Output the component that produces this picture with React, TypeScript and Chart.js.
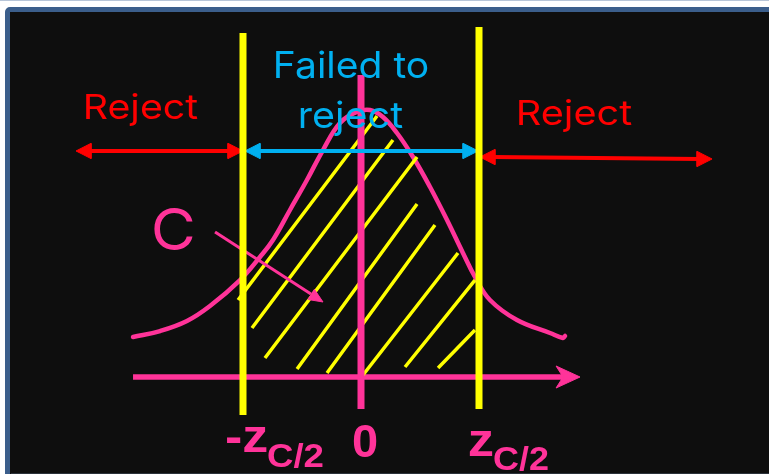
import React, { useEffect, useRef } from "react";
import { Chart, registerables } from "chart.js";

Chart.register(...registerables);

// ---- Diagram data (x in z-units, y in density units) ----
const curveZ = [-1.932, -1.703, -1.475, -1.280, -1.025, -0.856, -0.746, -0.602, -0.458, -0.322, -0.178, -0.034, 0.076, 0.186, 0.305, 0.441, 0.585, 0.729, 0.864, 0.966, 1.093, 1.322, 1.602, 1.712, 1.729];
const curveD = [0.0588, 0.0676, 0.0824, 0.1044, 0.1426, 0.1765, 0.2015, 0.2456, 0.2897, 0.3338, 0.3735, 0.3897, 0.3926, 0.3824, 0.3588, 0.3235, 0.2794, 0.2309, 0.1824, 0.1471, 0.1132, 0.0838, 0.0647, 0.0574, 0.0603];

const criticalZ = [-1.0, 1.0];
const criticalTopD = [0.5059, 0.5147];
const criticalBottomD = [-0.0559, -0.0471];

const zeroLineD = [-0.0471, 0.4441];

const axisStartZ = -1.932;
const axisTipZ = 1.856;
const axisNotchZ = 1.712;
const axisBarbZ = 1.653;
const axisBarbD = 0.0162;

const hatchStartZ = [-1.042, -0.924, -0.814, -0.542, -0.288, 0.017, 0.373, 0.653];
const hatchStartD = [0.1132, 0.0721, 0.0279, 0.0118, 0.0059, 0.0029, 0.0147, 0.0132];
const hatchEndZ = [0.136, 0.271, 0.475, 0.475, 0.627, 0.822, 0.966, 0.966];
const hatchEndD = [0.3838, 0.3485, 0.3235, 0.2544, 0.2235, 0.1824, 0.1426, 0.0691];

// double arrows: [leftTipZ, leftD, rightTipZ, rightD]
const rejectLeftArrow = [-2.415, 0.3324, -1.0, 0.3324];
const failedArrow = [-0.983, 0.3324, 0.992, 0.3324];
const rejectRightArrow = [1.008, 0.3235, 2.975, 0.3206];
const headLenZ = 0.127;
const headHalfD = 0.0112;

// "C" pointer arrow
const pointerLineZ = [-1.237, -0.424];
const pointerLineD = [0.2132, 0.1221];
const pointerHeadZ = [-0.322, -0.449, -0.395];
const pointerHeadD = [0.1103, 0.114, 0.129];

// text labels
const labelText = ["Reject", "Reject", "Failed to", "reject", "C", "-z", "C/2", "0", "z", "C/2"];
const labelZ = [-1.86, 1.814, -0.076, -0.081, -1.589, -0.97, -0.555, 0.034, 1.017, 1.356];
const labelD = [0.3794, 0.3706, 0.4397, 0.3662, 0.1868, -0.1103, -0.1324, -0.1176, -0.1162, -0.1368];

// ---- Styles / layout ----
const W = 769;
const H = 474;
const ZERO_PX = 361;
const PX_PER_Z = 118;
const BASE_PX = 377;
const PX_PER_D = 680;

const PINK = "#ff3399";
const YELLOW = "#ffff00";
const RED = "#ff0000";
const CYAN = "#00b0f0";

const labelStyle = [
  { color: RED, font: "400 34px Inter", ink: 113 },
  { color: RED, font: "400 34px Inter", ink: 114 },
  { color: CYAN, font: "400 37px Inter", ink: 152 },
  { color: CYAN, font: "400 37px Inter", ink: 103 },
  { color: PINK, font: "400 57px Inter", ink: 39 },
  { color: PINK, font: "700 46px 'Liberation Sans'", ink: 41 },
  { color: PINK, font: "700 34px 'Liberation Sans'", ink: 55 },
  { color: PINK, font: "700 47px 'Liberation Sans'", ink: 24 },
  { color: PINK, font: "700 46px 'Liberation Sans'", ink: 24 },
  { color: PINK, font: "700 34px 'Liberation Sans'", ink: 54 },
];

function seg(x1: number, y1: number, x2: number, y2: number, color: string, width: number) {
  return {
    data: [
      { x: x1, y: y1 },
      { x: x2, y: y2 },
    ],
    showLine: true,
    borderColor: color,
    borderWidth: width,
    pointRadius: 0,
    borderCapStyle: "butt",
    fill: false,
  };
}

function poly(pts: { x: number; y: number }[], color: string) {
  return {
    data: [...pts, pts[0]],
    showLine: true,
    borderColor: color,
    backgroundColor: color,
    borderWidth: 1,
    pointRadius: 0,
    fill: "shape",
    tension: 0,
  };
}

function doubleArrow(a: number[], color: string, width: number) {
  const [lz, ld, rz, rd] = a;
  return [
    seg(lz + headLenZ * 0.8, ld, rz - headLenZ * 0.8, rd, color, width),
    poly(
      [
        { x: lz, y: ld },
        { x: lz + headLenZ, y: ld + headHalfD },
        { x: lz + headLenZ, y: ld - headHalfD },
      ],
      color
    ),
    poly(
      [
        { x: rz, y: rd },
        { x: rz - headLenZ, y: rd + headHalfD },
        { x: rz - headLenZ, y: rd - headHalfD },
      ],
      color
    ),
  ];
}

const textPlugin = {
  id: "diagramText",
  afterDatasetsDraw(chart: any) {
    const ctx = chart.ctx as CanvasRenderingContext2D;
    const xs = chart.scales.x;
    const ys = chart.scales.y;
    labelText.forEach((t, i) => {
      const st = labelStyle[i];
      const cx = xs.getPixelForValue(labelZ[i]);
      const by = ys.getPixelForValue(labelD[i]);
      ctx.save();
      ctx.font = st.font;
      ctx.fillStyle = st.color;
      ctx.textAlign = "left";
      ctx.textBaseline = "alphabetic";
      const m = ctx.measureText(t);
      const inkW = m.actualBoundingBoxLeft + m.actualBoundingBoxRight;
      const sx = inkW > 0 ? st.ink / inkW : 1;
      ctx.translate(cx, by);
      ctx.scale(sx, 1);
      ctx.fillText(t, (m.actualBoundingBoxLeft - m.actualBoundingBoxRight) / 2, 0);
      ctx.restore();
    });
  },
};

export default function App() {
  const ref = useRef<HTMLCanvasElement>(null);

  useEffect(() => {
    if (!ref.current) return;

    const hatchData: any[] = [];
    hatchStartZ.forEach((z, i) => {
      hatchData.push({ x: z, y: hatchStartD[i] });
      hatchData.push({ x: hatchEndZ[i], y: hatchEndD[i] });
      hatchData.push({ x: hatchEndZ[i], y: null });
    });

    const datasets: any[] = [
      // top-most first
      ...criticalZ.map((z, i) => seg(z, criticalBottomD[i], z, criticalTopD[i], YELLOW, 7)),
      ...doubleArrow(failedArrow, CYAN, 4),
      ...doubleArrow(rejectLeftArrow, RED, 4),
      ...doubleArrow(rejectRightArrow, RED, 4),
      seg(0, zeroLineD[0], 0, zeroLineD[1], PINK, 7),
      seg(pointerLineZ[0], pointerLineD[0], pointerLineZ[1], pointerLineD[1], PINK, 3),
      poly(pointerHeadZ.map((z, i) => ({ x: z, y: pointerHeadD[i] })), PINK),
      {
        data: hatchData,
        showLine: true,
        spanGaps: false,
        borderColor: YELLOW,
        borderWidth: 3.5,
        pointRadius: 0,
        fill: false,
      },
      {
        data: curveZ.map((z, i) => ({ x: z, y: curveD[i] })),
        showLine: true,
        borderColor: PINK,
        borderWidth: 4.5,
        pointRadius: 0,
        tension: 0.4,
        borderCapStyle: "round",
        borderJoinStyle: "round",
        fill: false,
      },
      seg(axisStartZ, 0, axisNotchZ, 0, PINK, 5.5),
      poly(
        [
          { x: axisTipZ, y: 0 },
          { x: axisBarbZ, y: axisBarbD },
          { x: axisNotchZ, y: 0 },
          { x: axisBarbZ, y: -axisBarbD },
        ],
        PINK
      ),
    ];

    const chart = new Chart(ref.current, {
      type: "scatter",
      data: { datasets },
      options: {
        responsive: false,
        animation: false,
        events: [],
        layout: { padding: 0 },
        scales: {
          x: { type: "linear", display: false, min: -ZERO_PX / PX_PER_Z, max: (W - ZERO_PX) / PX_PER_Z },
          y: { type: "linear", display: false, min: (BASE_PX - H) / PX_PER_D, max: BASE_PX / PX_PER_D },
        },
        plugins: {
          legend: { display: false },
          tooltip: { enabled: false },
        },
      },
      plugins: [textPlugin],
    } as any);

    return () => chart.destroy();
  }, []);

  return (
    <div style={{ position: "fixed", left: 0, top: 0, width: W, height: H, background: "#ffffff", overflow: "hidden" }}>
      <div style={{ position: "absolute", left: 0, top: 0, width: W, height: 1, background: "#b7c5d8" }} />
      <div
        style={{
          position: "absolute",
          left: 5,
          top: 7,
          width: 800,
          height: 520,
          border: "5px solid #3b5e8b",
          borderRadius: 5,
          background: "#0e0e0e",
        }}
      />
      <div style={{ position: "absolute", left: 11, top: 473, width: W, height: 1, background: "#2b323a" }} />
      <canvas ref={ref} width={W} height={H} style={{ position: "absolute", left: 0, top: 0 }} />
    </div>
  );
}
